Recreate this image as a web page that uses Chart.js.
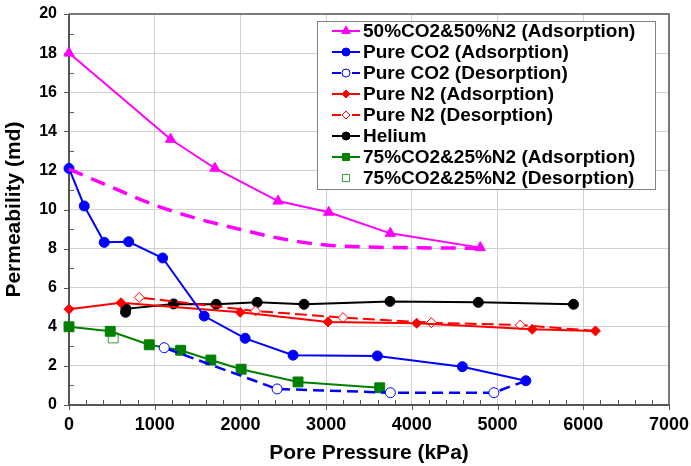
<!DOCTYPE html>
<html><head><meta charset="utf-8">
<script src="https://cdn.jsdelivr.net/npm/chart.js@4.4.0/dist/chart.umd.min.js"></script>
<style>html,body{margin:0;padding:0;background:#fff;}#wrap{width:691px;height:466px;}</style>
</head><body><div id="wrap"><canvas id="c" width="691" height="466"></canvas></div>
<script>
// ---- data (kPa, md) ----
const mixAdsX = [0, 1185, 1702, 2439, 3030, 3749, 4798];
const mixAdsY = [18.0, 13.59, 12.11, 10.43, 9.86, 8.78, 8.05];
const mixDesX = [0, 480, 1000, 1500, 2000, 2450, 3000, 3500, 4000, 4800];
const mixDesY = [12.07, 11.17, 10.23, 9.53, 8.98, 8.53, 8.18, 8.08, 8.04, 8.02];
const co2AdsX = [0, 178, 411, 696, 1092, 1577, 2055, 2614, 3598, 4589, 5330];
const co2AdsY = [12.1, 10.18, 8.32, 8.35, 7.52, 4.55, 3.41, 2.55, 2.51, 1.96, 1.24];
const co2DesX = [5330, 4957, 3749, 2428, 1111];
const co2DesY = [1.24, 0.63, 0.63, 0.82, 2.93];
const n2AdsX = [0, 606, 1997, 3022, 4056, 5404, 6142];
const n2AdsY = [4.90, 5.23, 4.74, 4.25, 4.18, 3.87, 3.79];
const n2DesX = [6142, 5265, 4227, 3197, 2176, 819];
const n2DesY = [3.79, 4.09, 4.21, 4.47, 4.81, 5.50];
const heX = [660, 664, 1220, 1717, 2195, 2742, 3745, 4775, 5886];
const heY = [4.74, 4.92, 5.17, 5.15, 5.25, 5.15, 5.30, 5.25, 5.15];
const m75AdsX = [0, 481, 936, 1302, 1655, 2008, 2672, 3625];
const m75AdsY = [4.0, 3.77, 3.08, 2.80, 2.30, 1.83, 1.18, 0.88];
const m75DesX = [516];
const m75DesY = [3.43];
const xTicks = [0, 1000, 2000, 3000, 4000, 5000, 6000, 7000];
const yTicks = [0, 2, 4, 6, 8, 10, 12, 14, 16, 18, 20];
const xTitle = 'Pore Pressure (kPa)';
const yTitle = 'Permeability (md)';
const labels = ['50%CO2&50%N2 (Adsorption)', 'Pure CO2 (Adsorption)', 'Pure CO2 (Desorption)',
  'Pure N2 (Adsorption)', 'Pure N2 (Desorption)', 'Helium', '75%CO2&25%N2 (Adsorption)', '75%CO2&25%N2 (Desorption)'];

const pts = (xs, ys) => xs.map((x, i) => ({x, y: ys[i]}));
const FONT = "'Liberation Sans', Arial, Helvetica, sans-serif";
const MAG = '#ff00ff', BLUE = '#0000ff', RED = '#ff0000', GREEN = '#008000';

const datasets = [
  {label: labels[0], data: pts(mixAdsX, mixAdsY), borderColor: MAG, backgroundColor: MAG, borderWidth: 2,
   pointStyle: 'triangle', pointRadius: 6, pointBorderWidth: 1, pointBackgroundColor: MAG, pointBorderColor: MAG, legend: true},
  {label: 'mixdes', data: pts(mixDesX, mixDesY), borderColor: MAG, borderWidth: 3.5, borderDash: [15, 9],
   pointRadius: 0, tension: 0.4, cubicInterpolationMode: 'monotone', legend: false},
  {label: labels[1], data: pts(co2AdsX, co2AdsY), borderColor: BLUE, backgroundColor: BLUE, borderWidth: 2,
   pointStyle: 'circle', pointRadius: 5, pointBorderWidth: 1, pointBackgroundColor: BLUE, pointBorderColor: BLUE, legend: true},
  {label: labels[2], data: pts(co2DesX, co2DesY), borderColor: BLUE, borderWidth: 2.5, borderDash: [11, 6],
   pointStyle: 'circle', pointRadius: c => c.dataIndex === 0 ? 0 : 5, pointBorderWidth: 1,
   pointBackgroundColor: '#fff', pointBorderColor: BLUE, legend: true, dashed: true},
  {label: labels[3], data: pts(n2AdsX, n2AdsY), borderColor: RED, backgroundColor: RED, borderWidth: 2,
   pointStyle: 'rectRot', pointRadius: 5, pointBorderWidth: 1, pointBackgroundColor: RED, pointBorderColor: RED, legend: true},
  {label: labels[4], data: pts(n2DesX, n2DesY), borderColor: RED, borderWidth: 2, borderDash: [12, 5],
   pointStyle: 'rectRot', pointRadius: c => c.dataIndex === 0 ? 0 : 5, pointBorderWidth: 1,
   pointBackgroundColor: '#fff', pointBorderColor: RED, legend: true, dashed: true},
  {label: labels[5], data: pts(heX, heY), borderColor: '#000', backgroundColor: '#000', borderWidth: 2,
   pointStyle: 'circle', pointRadius: 5, pointBorderWidth: 1, pointBackgroundColor: '#000', pointBorderColor: '#000', legend: true},
  {label: labels[6], data: pts(m75AdsX, m75AdsY), borderColor: GREEN, backgroundColor: GREEN, borderWidth: 2,
   pointStyle: 'rect', pointRadius: 7, pointBorderWidth: 1, pointBackgroundColor: GREEN, pointBorderColor: GREEN, legend: true},
  {label: labels[7], data: pts(m75DesX, m75DesY), showLine: false, borderColor: '#3a9a3a',
   pointStyle: 'rect', pointRadius: 7, pointBorderWidth: 1, pointBackgroundColor: '#fff', pointBorderColor: '#3a9a3a', legend: true, noLine: true}
];
datasets.forEach(d => { d.clip = false; d.fill = false; });

const framePlugin = {
  id: 'frame',
  beforeDatasetsDraw(chart) {
    const {ctx, chartArea: a, scales: {x, y}} = chart;
    ctx.save();
    ctx.strokeStyle = '#555'; ctx.lineWidth = 1;
    for (let v = 0; v <= xTicks[xTicks.length - 1]; v += 200) {
      const px = Math.round(x.getPixelForValue(v)) + 0.5;
      ctx.beginPath();
      if (xTicks.includes(v)) { ctx.moveTo(px, a.bottom); ctx.lineTo(px, a.bottom + 5); }
      else { ctx.moveTo(px, a.bottom); ctx.lineTo(px, a.bottom - 5); }
      ctx.stroke();
    }
    for (let v = 0; v <= yTicks[yTicks.length - 1]; v += 1) {
      const py = Math.round(y.getPixelForValue(v)) + 0.5;
      ctx.beginPath();
      if (yTicks.includes(v)) { ctx.moveTo(a.left - 5, py); ctx.lineTo(a.left, py); }
      else { ctx.moveTo(a.left, py); ctx.lineTo(a.left + 5, py); }
      ctx.stroke();
    }
    ctx.lineWidth = 2;
    ctx.strokeStyle = '#7a7a7a';
    ctx.beginPath(); ctx.moveTo(a.left, a.top); ctx.lineTo(a.right, a.top); ctx.lineTo(a.right, a.bottom); ctx.stroke();
    ctx.strokeStyle = '#555';
    ctx.beginPath(); ctx.moveTo(a.left, a.top); ctx.lineTo(a.left, a.bottom); ctx.lineTo(a.right, a.bottom); ctx.stroke();
    ctx.restore();
  }
};

function drawMarker(ctx, style, r, x, y, fill, stroke) {
  ctx.fillStyle = fill; ctx.strokeStyle = stroke; ctx.lineWidth = 1;
  if (Chart.helpers && Chart.helpers.drawPoint) {
    Chart.helpers.drawPoint(ctx, {pointStyle: style, radius: r, rotation: 0, borderWidth: 1}, x, y);
  } else {
    ctx.beginPath(); ctx.arc(x, y, r, 0, Math.PI * 2); ctx.fill(); ctx.stroke();
  }
}

const legendPlugin = {
  id: 'customLegend',
  afterDatasetsDraw(chart) {
    const ctx = chart.ctx;
    const bx = 317, by = 21, bw = 338, bh = 168;
    ctx.save();
    ctx.fillStyle = '#fff'; ctx.fillRect(bx, by, bw, bh);
    ctx.strokeStyle = '#808080'; ctx.lineWidth = 1;
    ctx.strokeRect(bx + 0.5, by + 0.5, bw, bh);
    let row = 0;
    chart.data.datasets.forEach(d => {
      if (!d.legend) return;
      const cy = 31 + row * 21, x0 = 332, x1 = 360, cx = 346;
      ctx.setLineDash([]);
      ctx.strokeStyle = d.borderColor; ctx.lineWidth = 2;
      if (!d.noLine) {
        ctx.beginPath();
        if (d.dashed) { ctx.moveTo(x0, cy); ctx.lineTo(x0 + 9, cy); ctx.moveTo(x1 - 8, cy); ctx.lineTo(x1, cy); }
        else { ctx.moveTo(x0, cy); ctx.lineTo(x1, cy); }
        ctx.stroke();
      }
      const r = d.pointStyle === 'rect' ? 5 : (d.pointStyle === 'triangle' ? 5 : 4);
      drawMarker(ctx, d.pointStyle, r, cx, cy, d.pointBackgroundColor, d.pointBorderColor);
      ctx.fillStyle = '#000';
      ctx.font = 'bold 19px ' + FONT;
      ctx.textBaseline = 'middle'; ctx.textAlign = 'left';
      ctx.fillText(d.label, 363, cy + 1);
      row++;
    });
    ctx.restore();
  }
};

new Chart(document.getElementById('c'), {
  type: 'line',
  data: {datasets},
  options: {
    responsive: false, animation: false, devicePixelRatio: 1,
    layout: {padding: {left: 0, right: 22, top: 14, bottom: 0}},
    plugins: {legend: {display: false}, tooltip: {enabled: false}},
    scales: {
      x: {
        type: 'linear', min: xTicks[0], max: xTicks[xTicks.length - 1],
        afterFit(s) { s.height = 61; s.paddingLeft = 0; s.paddingRight = 0; s.paddingTop = 0; s.paddingBottom = 0; },
        afterBuildTicks(s) { s.ticks = xTicks.map(v => ({value: v})); },
        grid: {color: '#d0d0d0', lineWidth: 1, drawTicks: false},
        border: {display: false},
        ticks: {padding: 9, color: '#000', font: {family: FONT, size: 18, weight: 'bold'}, maxRotation: 0,
          callback: v => String(v)},
        title: {display: true, text: xTitle, color: '#000', padding: {top: 0, bottom: 0},
          font: {family: FONT, size: 21, weight: 'bold'}}
      },
      y: {
        type: 'linear', min: yTicks[0], max: yTicks[yTicks.length - 1],
        afterFit(s) { s.width = 69; s.paddingLeft = 0; s.paddingRight = 0; s.paddingTop = 0; s.paddingBottom = 0; },
        afterBuildTicks(s) { s.ticks = yTicks.map(v => ({value: v})); },
        grid: {color: '#d0d0d0', lineWidth: 1, drawTicks: false},
        border: {display: false},
        ticks: {padding: 12, color: '#000', font: {family: FONT, size: 16, weight: 'bold'}, callback: v => String(v)},
        title: {display: true, text: yTitle, color: '#000', padding: {top: 2, bottom: 0},
          font: {family: FONT, size: 21, weight: 'bold'}}
      }
    }
  },
  plugins: [framePlugin, legendPlugin]
});
</script></body></html>
